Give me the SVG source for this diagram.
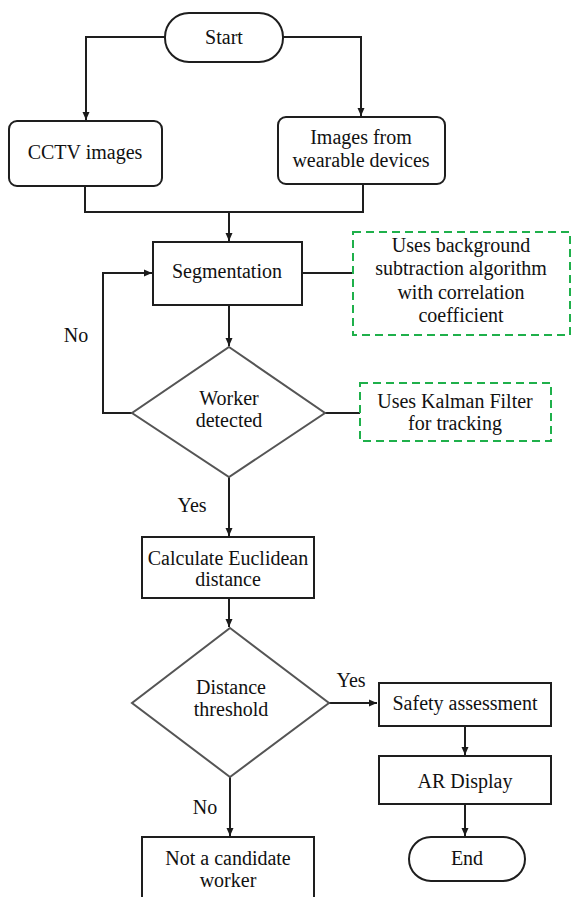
<svg xmlns="http://www.w3.org/2000/svg" width="572" height="897" viewBox="0 0 572 897">
<defs>
<marker id="arr" markerUnits="userSpaceOnUse" markerWidth="9" markerHeight="8" refX="8" refY="4" orient="auto">
<path d="M0,0.5 L8,4 L0,7.5 z" fill="#1a1a1a"/>
</marker>
<style>
text{font-family:'Times New Roman','Liberation Serif','DejaVu Serif','Noto Serif',serif;font-size:20px;fill:#111;text-anchor:middle}
.box{fill:#fff;stroke:#1e1e1e;stroke-width:2}
.dia{fill:#fff;stroke:#555;stroke-width:2}
.note{fill:#fff;stroke:#1fb04b;stroke-width:2;stroke-dasharray:8 5}
.ln{fill:none;stroke:#1e1e1e;stroke-width:2}
.ar{marker-end:url(#arr)}
</style>
</defs>
<rect width="572" height="897" fill="#fff"/>
<g id="connectors">
<path class="ln ar" d="M165,37 H86 V120"/>
<path class="ln ar" d="M283,37 H361 V116"/>
<path class="ln" d="M85,186 V212 H363 V184"/>
<path class="ln ar" d="M229,212 V241"/>
<path class="ln" d="M302,273 H353"/>
<path class="ln ar" d="M229,305 V346"/>
<path class="ln ar" d="M132,413 H103 V273 H152"/>
<path class="ln" d="M325,413 H360"/>
<path class="ln ar" d="M229,477 V536"/>
<path class="ln ar" d="M229,598 V627"/>
<path class="ln ar" d="M329,703 H377"/>
<path class="ln ar" d="M230,777 V836"/>
<path class="ln ar" d="M465,726 V755"/>
<path class="ln ar" d="M465,804 V836"/>
<text x="76" y="342">No</text>
<text x="192" y="512">Yes</text>
<text x="351" y="687">Yes</text>
<text x="205" y="814">No</text>
</g>
<g id="start">
<rect class="box" x="165" y="13" width="118" height="49" rx="24"/>
<text x="224" y="44">Start</text>
</g>
<g id="cctv">
<rect class="box" x="9" y="121" width="153" height="65" rx="8"/>
<text x="85" y="159">CCTV images</text>
</g>
<g id="wearable">
<rect class="box" x="278" y="117" width="167" height="67" rx="8"/>
<text x="361" y="144">Images from</text>
<text x="361" y="167">wearable devices</text>
</g>
<g id="segmentation">
<rect class="box" x="153" y="242" width="149" height="63"/>
<text x="227" y="278">Segmentation</text>
</g>
<g id="note-bg">
<rect class="note" x="353" y="232" width="217" height="103"/>
<text x="461" y="252">Uses background</text>
<text x="461" y="275">subtraction algorithm</text>
<text x="461" y="299">with correlation</text>
<text x="461" y="322">coefficient</text>
</g>
<g id="worker-detected">
<polygon class="dia" points="229,347 325,413 229,477 132,413"/>
<text x="229" y="405">Worker</text>
<text x="229" y="427">detected</text>
</g>
<g id="note-kalman">
<rect class="note" x="360" y="383" width="191" height="58"/>
<text x="455" y="408">Uses Kalman Filter</text>
<text x="455" y="430">for tracking</text>
</g>
<g id="euclidean">
<rect class="box" x="142" y="537" width="172" height="61"/>
<text x="228" y="565">Calculate Euclidean</text>
<text x="228" y="586">distance</text>
</g>
<g id="threshold">
<polygon class="dia" points="230,628 329,703 230,777 132,703"/>
<text x="231" y="694">Distance</text>
<text x="231" y="716">threshold</text>
</g>
<g id="safety">
<rect class="box" x="379" y="683" width="172" height="43"/>
<text x="465" y="710">Safety assessment</text>
</g>
<g id="ar-display">
<rect class="box" x="379" y="756" width="172" height="48"/>
<text x="465" y="788">AR Display</text>
</g>
<g id="end">
<rect class="box" x="409" y="837" width="116" height="44" rx="22"/>
<text x="467" y="865">End</text>
</g>
<g id="not-candidate">
<rect class="box" x="142" y="837" width="172" height="70"/>
<text x="228" y="865">Not a candidate</text>
<text x="228" y="887">worker</text>
</g>
</svg>
